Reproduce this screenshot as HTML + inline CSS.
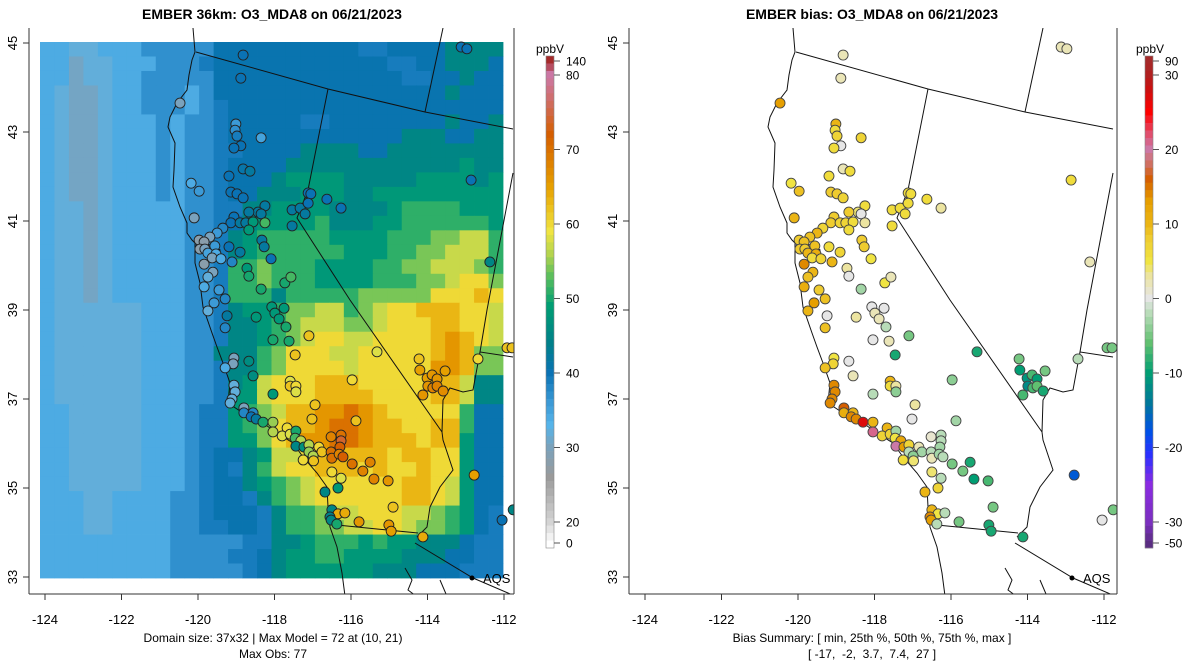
<!DOCTYPE html>
<html><head><meta charset="utf-8"><style>
html,body{margin:0;padding:0;background:#fff;}
svg{display:block;font-family:"Liberation Sans",Arial,sans-serif;}
</style></head><body>
<svg id="root" width="1200" height="672" viewBox="0 0 1200 672" xmlns="http://www.w3.org/2000/svg">
<defs>
<clipPath id="clipL"><rect x="29" y="28" width="485" height="566"/></clipPath>
<clipPath id="clipR"><rect x="629" y="28" width="488" height="566"/></clipPath>
<g id="mapLines" fill="none" stroke="#111" stroke-width="1">
<path d="M193,28 L195,52 L192,60 L189,75 L187,90 L177,103 L170,117 L168,127 L175,143 L174,170 L173,187 L180,207 L187,223 L187,233 L192,240 L195,243 L195,263 L200,283 L203,307 L212,333 L217,347 L223,363 L230,383 L228,403 L243,413 L263,423 L277,433 L293,443 L303,457 L317,473 L327,487 L328,507 L330,527 L337,547 L342,573 L345,596"/>
<path d="M195,243 L205,246 L212,244 L220,250 L214,252 L203,250"/>
<path d="M196,52 L328,89 L425,112 L513,129"/>
<path d="M425,112 L443,28"/>
<path d="M328,89 L308,190 L297,218 L350,300 L442,432"/>
<path d="M442,432 L443,440 L453,470 L440,487 L430,507 L427,527 L417,537"/>
<path d="M337,525 L418,533"/>
<path d="M415,543 L473,578 L515,596"/>
<path d="M513,173 L487,310 L480,352 L513,357"/>
<path d="M480,352 L473,390 L463,392 L450,388 L443,400 L442,432"/>
<path d="M405,568 L412,580 L408,590 L416,596"/>
<path d="M440,580 L446,594"/>
</g>
</defs>

<g>
<text x="272" y="19" text-anchor="middle" font-size="14" font-weight="bold">EMBER 36km: O3_MDA8 on 06/21/2023</text>
<g id="gridL" clip-path="url(#clipL)"></g>
<g clip-path="url(#clipL)"><use href="#mapLines"/></g>
<g id="stL" clip-path="url(#clipL)"></g>
<g id="axL"></g>
<circle cx="472" cy="578" r="2.5" fill="#000"/>
<text x="483" y="583" font-size="13">AQS</text>
<text x="273" y="642" text-anchor="middle" font-size="12">Domain size: 37x32 | Max Model = 72 at (10, 21)</text>
<text x="273" y="658" text-anchor="middle" font-size="12">Max Obs: 77</text>
<text x="550" y="53" text-anchor="middle" font-size="12">ppbV</text>
<g id="cbL"></g>
</g>

<g>
<text x="872" y="19" text-anchor="middle" font-size="14" font-weight="bold">EMBER bias: O3_MDA8 on 06/21/2023</text>
<g clip-path="url(#clipR)"><use href="#mapLines" transform="translate(600,0)"/></g>
<g id="stR" clip-path="url(#clipR)"></g>
<g id="axR"></g>
<circle cx="1072" cy="578" r="2.5" fill="#000"/>
<text x="1083" y="583" font-size="13">AQS</text>
<text x="872" y="642" text-anchor="middle" font-size="12">Bias Summary: [ min, 25th %, 50th %, 75th %, max ]</text>
<text x="872" y="658" text-anchor="middle" font-size="12" xml:space="preserve">[ -17,  -2,  3.7,  7.4,  27 ]</text>
<text x="1150" y="53" text-anchor="middle" font-size="12">ppbV</text>
<g id="cbR"></g>
</g>
</svg>
<script>
const gridCodes = ["a","b","c","d","e","f","g","h","i","j","k","l","m","n","o"];
const gridCodeValues = [30.5,32,34,37,39,40.5,45,48,51,54,57,60,63,66,70];
const gridRows = [
"ccbbcccdddddffffffffffeeffffgggg",
"ccabbcccdddeffffffffffffeeffgggf",
"ccabbccdddddfffffffffffffeeffgff",
"cbaabccdddcdffffffffffffffffgfff",
"cbaabccdddcdefffffffffffffffffff",
"cbaabcccdcddefffffeeffffffffgffg",
"cbaabcccdcddeffffffffffffgggffgg",
"cbaabcccdcddeeffffggggffgggggggg",
"cbaabcccdcddeffffgggggggggggghgg",
"cbaabcccdcddefffghhhhggggghhhhgh",
"cbaabcccdcddeffggghhhgghhhhhhhhh",
"cbbabcccccddeegghhhhgggghiiiihhh",
"cbbabcccccddefghhhhiggghhiiiiiih",
"cbbabcccccddeghiiiiihhhhiiijjkki",
"cbbabcccccddeghiiiiiihhhiijjkkki",
"cbbabcccccddeiijiiihhhhiijjkkkji",
"cbbabcccccddeiijiiihhhhiiijjkllj",
"cbbabcccccddeiiigiiiiijjjjjlllml",
"cbbbbbbcccddeghhijjkkijkllmmmllk",
"cbbbbbbcccddegghijkkkjjklllmmllk",
"cbbbbbbcccddegghijkllkkllllmnmlk",
"cbbbbbbcccddgggijlllkklllllmnmjj",
"cbbbbbbcccddeggijllllklllllnnmjj",
"cbbbbbbcccddeghklllmmmlllllmmkgg",
"cbbbbbbcccddehhklllmmmmllllmmkgg",
"ccbbbbbcccdeehijkmmnnonmllllliff",
"ccbbbbbcccdeehijlmmnoonmmllmmiff",
"ccbbbbbcccdeehhjlmnnoonmmmlmmhff",
"ccbbbbbcccdeffghkklmmmmmlmmllhff",
"ccbbbbbcccdefegikllmmmlmllmllhff",
"ccbbbbbcccdeffghijkllllllmmlkhff",
"cccbbccccddeffegijkllllllmmlkhff",
"cccbbccccddefffegiijkklllkkjihfe",
"cccbbccccddeeffegiijjkkllkjjihfe",
"cccccccccdddddeegghiiihihhgggfee",
"cccccccccddddeefghhiihhhhgggffee",
"cccccccccdddddefghhhhhhgggfffee"
];
const stLon = [-118.82,-118.88,-120.47,-119.01,-119.03,-118.98,-118.35,-118.88,-119.06,-118.82,-118.64,-119.19,-120.18,-119.97,-119.14,-118.98,-118.82,-120.10,-118.25,-118.43,-118.35,-118.67,-119.06,-119.14,-118.90,-118.75,-118.56,-118.67,-118.25,-119.35,-119.50,-119.69,-119.97,-119.84,-119.95,-119.82,-119.74,-119.56,-119.53,-119.63,-119.40,-119.19,-118.90,-119.11,-119.84,-119.61,-119.74,-119.84,-119.45,-119.29,-119.58,-118.33,-118.27,-118.09,-118.72,-118.67,-118.35,-117.73,-117.57,-117.54,-117.33,-117.20,-117.54,-117.12,-117.05,-117.12,-116.63,-116.26,-112.86,-113.12,-112.97,-112.37,-119.74,-119.24,-118.48,-119.29,-118.07,-117.75,-117.99,-117.88,-117.70,-118.04,-117.62,-117.10,-117.46,-115.32,-119.06,-119.08,-119.29,-118.67,-118.56,-117.59,-117.59,-117.44,-117.44,-118.04,-115.97,-114.22,-114.20,-114.01,-113.88,-113.75,-113.99,-113.86,-113.75,-113.59,-114.12,-113.54,-112.68,-111.92,-111.79,-116.94,-117.02,-115.87,-118.80,-119.06,-119.03,-119.11,-119.16,-118.80,-118.56,-118.61,-118.48,-118.30,-118.04,-118.04,-117.67,-117.80,-117.59,-117.44,-117.46,-117.31,-117.44,-117.23,-117.10,-116.84,-116.76,-117.10,-116.99,-117.25,-116.98,-116.52,-116.26,-116.26,-116.29,-116.52,-116.50,-116.31,-116.21,-115.97,-115.69,-115.50,-115.40,-115.03,-116.50,-116.26,-116.34,-116.68,-114.90,-116.50,-116.34,-116.16,-116.55,-116.52,-116.37,-115.79,-115.01,-114.95,-114.12,-112.78,-112.05,-111.76];
const stLat = [44.73,44.21,43.65,43.18,43.04,42.91,42.87,42.69,42.64,42.17,42.12,42.01,41.85,41.67,41.65,41.61,41.52,41.07,41.34,41.20,41.16,41.20,41.09,40.96,40.96,40.96,40.98,40.80,40.96,40.84,40.73,40.64,40.57,40.53,40.37,40.37,40.28,40.44,40.26,40.17,40.15,40.42,40.30,40.08,40.03,39.85,39.74,39.52,39.45,39.25,39.16,40.57,40.42,40.15,39.94,39.76,39.47,39.61,39.74,41.25,41.29,41.16,40.89,41.63,41.61,41.40,41.49,41.29,41.92,44.91,44.87,40.08,38.98,38.87,38.84,38.60,39.07,39.04,38.93,38.80,38.62,38.33,38.30,38.42,37.99,38.06,37.92,37.79,37.70,37.85,37.52,37.40,37.29,37.29,37.16,37.11,37.43,37.90,37.65,37.47,37.54,37.45,37.29,37.25,37.29,37.18,37.09,37.63,37.90,38.15,38.15,36.87,36.55,36.51,36.80,37.31,37.16,37.00,36.91,36.69,36.69,36.60,36.55,36.48,36.48,36.26,36.35,36.17,36.21,36.28,36.12,36.06,35.94,35.92,35.97,35.92,35.81,35.81,35.72,35.63,35.61,36.15,36.19,36.06,35.92,35.81,35.67,35.76,35.70,35.54,35.38,35.58,35.20,35.16,35.36,35.22,35.00,34.91,34.57,34.51,34.42,34.44,34.35,34.28,34.19,34.24,34.17,34.03,33.90,35.29,34.28,34.51];
const stObs = [40,40,30,36,37,39,35,40,40,41,42,40,34,36,40,40,40,30,42,42,42,42,40,40,42,42,48,48,52,38,36,30,28,28,28,30,35,36,34,30,34,40,42,38,28,30,32,34,36,38,36,42,42,40,48,50,50,50,52,42,42,42,42,40,40,40,40,40,40,40,40,45,32,42,48,38,48,48,48,48,50,50,50,62,62,58,30,30,34,46,46,58,62,60,58,48,60,62,65,65,66,66,66,68,68,67,66,65,60,62,62,62,62,62,30,32,32,32,32,38,38,40,42,50,55,56,60,58,58,50,52,56,45,47,56,60,62,55,56,60,62,68,70,74,72,70,70,68,72,70,68,68,68,66,60,58,48,45,62,45,64,64,44,45,50,66,66,65,64,65,40,45];
const stBias = [2,2,13,10,6,7,7,0,6,2,6,6,5,9,8,8,7,10,6,4,0,8,8,8,7,7,6,6,3,7,10,9,8,9,8,8,10,9,11,6,7,6,7,10,14,10,9,11,8,9,13,8,8,5,3,0,-3,5,2,6,6,6,6,6,6,6,6,3,6,2,2,2,10,0,3,9,0,0,2,2,-2,0,2,-5,-9,-9,5,7,9,0,2,10,6,3,-4,-2,-4,-5,-10,-11,-7,-10,-12,-7,-6,-9,-7,-5,-2,-5,-5,3,0,-3,16,14,14,14,14,11,10,14,14,27,10,21,10,7,7,-3,5,12,20,13,7,2,-3,-2,-4,6,4,1,-2,-2,-3,-2,2,-3,-2,-5,-5,-9,-10,-7,4,-2,7,10,-5,10,5,-2,14,13,-2,-5,-9,-9,-9,-17,0,-5];
const lonTicks = [-124,-122,-120,-118,-116,-114,-112];
const latTicks = [45,43,41,39,37,35,33];
const obsBarTicks = [140,80,70,60,50,40,30,20,0];
const biasBarTicks = [90,30,20,10,0,-10,-20,-30,-50];

const NS="http://www.w3.org/2000/svg";
function el(t,a,p){const e=document.createElementNS(NS,t);for(const k in a)e.setAttribute(k,a[k]);if(p)p.appendChild(e);return e;}
const xLon = (lon,off)=> off + 45 + (lon+124)*38.25;
const yLat = lat => 577 - (lat-33)*44.5;
const gx = i => 40 + i*463/32;
const gy = j => 42 + j*536/37;
function hex2rgb(h){return [1,3,5].map(i=>parseInt(h.substr(i,2),16));}
function ramp(stops,v){
  if(v<=stops[0][0])return stops[0][1];
  for(let i=1;i<stops.length;i++){if(v<=stops[i][0]){const [a,ca]=stops[i-1],[b,cb]=stops[i];const t=(v-a)/(b-a);const A=hex2rgb(ca),B=hex2rgb(cb);return "rgb("+A.map((x,k)=>Math.round(x+(B[k]-x)*t)).join(",")+")";}}
  return stops[stops.length-1][1];
}
const obsStops=[[0,"#ffffff"],[20,"#d4d4d4"],[26,"#9a9a9a"],[30,"#7aa2bc"],[33,"#56b4e9"],[36,"#3c9ad6"],[40,"#0a72b4"],[44,"#00808a"],[49,"#009e73"],[53,"#5cbf5c"],[56,"#b4d44e"],[59,"#f0e442"],[62,"#ecc21e"],[65,"#e69f00"],[72,"#d55e00"],[77,"#cf6f70"],[80,"#cc79a7"],[140,"#a52a2a"]];
const biasStops=[[-50,"#5a2d82"],[-30,"#7b2fbf"],[-25,"#8a2be2"],[-21,"#2a30ff"],[-18,"#0050e8"],[-14,"#00789a"],[-10,"#009e73"],[-6,"#60c070"],[-2,"#b8dcb8"],[0,"#e6e6e6"],[3,"#ece4a0"],[5,"#f0e442"],[8,"#efcc30"],[10,"#ebb515"],[13,"#e69f00"],[16,"#d55e00"],[18,"#d07060"],[20,"#cc79a7"],[22,"#e05070"],[25,"#ff0000"],[28,"#cc1010"],[30,"#b02020"],[90,"#a52a2a"]];

const gL=document.getElementById('gridL');
gridRows.forEach((row,j)=>{
  for(let i=0;i<32;i++){
    const ch=row[i]||row[row.length-1];
    const v=gridCodeValues[gridCodes.indexOf(ch)];
    const r=el('rect',{x:gx(i).toFixed(2),y:gy(j).toFixed(2),width:(gx(i+1)-gx(i)+0.4).toFixed(2),height:(gy(j+1)-gy(j)+0.4).toFixed(2),fill:ramp(obsStops,v)},gL);
    
    
  }
});

const sL=document.getElementById('stL'),sR=document.getElementById('stR');
for(let k=0;k<stLon.length;k++){
  const c1=el('circle',{cx:xLon(stLon[k],0),cy:yLat(stLat[k]),r:5,fill:ramp(obsStops,stObs[k]),stroke:"#222","stroke-width":0.9},sL);
  
  
  const c2=el('circle',{cx:xLon(stLon[k],600),cy:yLat(stLat[k]),r:5,fill:ramp(biasStops,stBias[k]),stroke:"#444","stroke-width":0.9},sR);
  
  
}

function axes(g,off){
  const left=29+off,right=(off?1117:514),bottom=594;
  el('line',{x1:left,y1:28,x2:left,y2:bottom,stroke:"#333","stroke-width":1},g);
  el('line',{x1:left,y1:bottom,x2:right,y2:bottom,stroke:"#333","stroke-width":1},g);
  el('line',{x1:right,y1:28,x2:right,y2:bottom,stroke:"#333","stroke-width":1},g);
  lonTicks.forEach(t=>{const x=xLon(t,off);
    el('line',{x1:x,y1:bottom,x2:x,y2:bottom+6,stroke:"#333"},g);
    const tx=el('text',{x:x,y:624,"text-anchor":"middle","font-size":13},g);tx.textContent=t;
    
    
  });
  latTicks.forEach(t=>{const y=yLat(t);
    el('line',{x1:left,y1:y,x2:left-6,y2:y,stroke:"#333"},g);
    const tx=el('text',{x:0,y:0,"text-anchor":"middle","font-size":13,transform:`translate(${left-12},${y}) rotate(-90)`},g);tx.textContent=t;
    
    
  });
}
axes(document.getElementById('axL'),0);
axes(document.getElementById('axR'),600);

function colorbar(g,x,anchors,stops,ticks){
  const yOf=v=>{for(let i=1;i<anchors.length;i++){const [a,ya]=anchors[i-1],[b,yb]=anchors[i];if((v>=Math.min(a,b)&&v<=Math.max(a,b)))return ya+(v-a)/(b-a)*(yb-ya);}return anchors[0][1];};
  const vOf=y=>{for(let i=1;i<anchors.length;i++){const [a,ya]=anchors[i-1],[b,yb]=anchors[i];if(y<=ya&&y>=yb)return a+(y-ya)/(yb-ya)*(b-a);}return y>anchors[0][1]?anchors[0][0]:anchors[anchors.length-1][0];};
  const top=56,bot=548,n=66,h=(bot-top)/n;
  for(let s=0;s<n;s++){const yc=top+(s+0.5)*h;
    const r=el('rect',{x:x,y:(top+s*h).toFixed(2),width:8,height:(h+0.3).toFixed(2),fill:ramp(stops,vOf(yc))},g);
    
    
  }
  el('rect',{x:x,y:top,width:8,height:bot-top,fill:"none",stroke:"#888","stroke-width":0.6},g);
  ticks.forEach(t=>{const y=yOf(t);
    el('line',{x1:x+8,y1:y,x2:x+14,y2:y,stroke:"#555"},g);
    const tx=el('text',{x:x+20,y:y+4.5,"font-size":12},g);tx.textContent=t;
    
    
  });
}
colorbar(document.getElementById('cbL'),546,[[0,543],[20,522],[80,75],[140,61]],obsStops,obsBarTicks);
colorbar(document.getElementById('cbR'),1145,[[-50,543],[-30,522],[30,75],[90,61]],biasStops,biasBarTicks);
</script>
</body></html>
